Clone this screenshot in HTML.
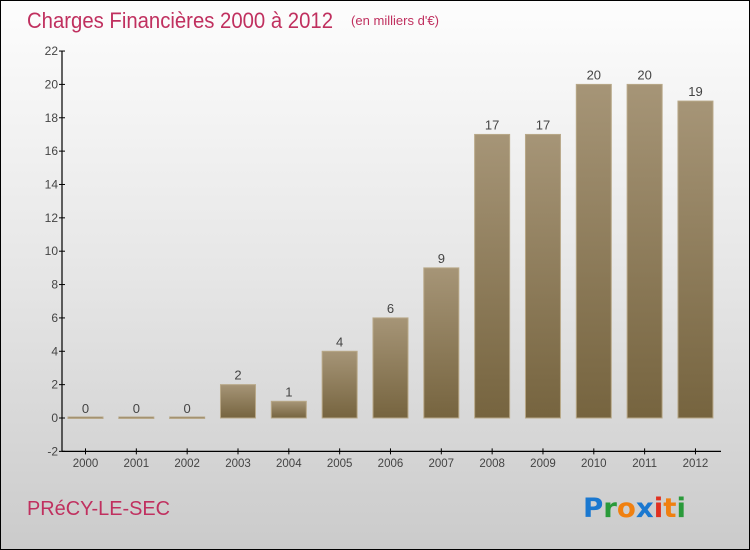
<!DOCTYPE html>
<html><head><meta charset="utf-8"><style>
html,body{margin:0;padding:0;}
body{width:750px;height:550px;overflow:hidden;font-family:"Liberation Sans",sans-serif;}
#wrap{position:relative;width:748px;height:548px;border:1px solid #000;background:linear-gradient(#fdfdfd,#e6e6e6 50%,#cbcbcb);}
</style></head><body>
<div id="wrap">
<svg id="chart" width="748" height="548" style="position:absolute;left:0;top:0">
<defs><linearGradient id="bg" x1="0" y1="0" x2="0" y2="1"><stop offset="0" stop-color="#a69577"/><stop offset="1" stop-color="#76643f"/></linearGradient></defs>
<text x="26" y="27" font-size="22" fill="#c0305f" textLength="306" lengthAdjust="spacingAndGlyphs">Charges Financières 2000 à 2012</text>
<text x="350" y="24" font-size="12.5" fill="#c0305f" textLength="88" lengthAdjust="spacingAndGlyphs">(en milliers d'€)</text>
<text x="26" y="514" font-size="20" fill="#c0305f" textLength="143" lengthAdjust="spacingAndGlyphs">PRéCY-LE-SEC</text>
<text x="582" y="516" font-size="27" font-family="'DejaVu Sans',sans-serif" font-weight="bold" textLength="103" lengthAdjust="spacingAndGlyphs"><tspan fill="#1a78d0">P</tspan><tspan fill="#2a9a3a">r</tspan><tspan fill="#f08010">o</tspan><tspan fill="#1a78d0">x</tspan><tspan fill="#e03020">i</tspan><tspan fill="#f08010">t</tspan><tspan fill="#2a9a3a">i</tspan></text>
<g id="axes"></g><g id="bars"></g>
</svg>
</div>
<script>
const categories=["2000","2001","2002","2003","2004","2005","2006","2007","2008","2009","2010","2011","2012"];
const values=[0,0,0,2,1,4,6,9,17,17,20,20,19];
const yTicks=[-2,0,2,4,6,8,10,12,14,16,18,20,22];
const NS="http://www.w3.org/2000/svg";
const y0=417,ppu=16.68,x0=84.5,step=50.83,bw=35;
function yS(v){return y0-v*ppu;}
function xS(i){return x0+i*step;}
function mk(t,a,p){const e=document.createElementNS(NS,t);for(const k in a)e.setAttribute(k,a[k]);p.appendChild(e);return e;}
const ax=document.getElementById('axes'),bs=document.getElementById('bars');
const ya=mk('line',{x1:61,y1:yS(22),x2:61,y2:yS(-2),stroke:'#000','stroke-width':1.2},ax);


const xa=mk('line',{x1:61,y1:yS(-2),x2:720,y2:yS(-2),stroke:'#000','stroke-width':1.2},ax);


yTicks.forEach(v=>{
 mk('line',{x1:58,x2:64,y1:yS(v),y2:yS(v),stroke:'#000'},ax);
 const t=mk('text',{x:57,y:yS(v)+4,'text-anchor':'end','font-size':12,fill:'#444'},ax);
 t.textContent=v;
 
 
});
categories.forEach((c,i)=>{
 const x=xS(i);
 mk('line',{x1:x,x2:x,y1:yS(-2)-3,y2:yS(-2)+3,stroke:'#000'},ax);
 const t=mk('text',{x:x,y:466,'text-anchor':'middle','font-size':11.5,fill:'#444'},ax);
 t.textContent=c;
 
 
 const v=values[i];
 const h=Math.max(v*ppu,1.5);
 const r=mk('rect',{x:x-bw/2,y:yS(v)-(v===0?1:0),width:bw,height:h,fill:'url(#bg)',stroke:'#b8a888','stroke-width':1},bs);
 
 
 const l=mk('text',{x:x,y:yS(v)-5,'text-anchor':'middle','font-size':13,fill:'#444'},bs);
 l.textContent=v;
 
 
});
</script>
</body></html>
